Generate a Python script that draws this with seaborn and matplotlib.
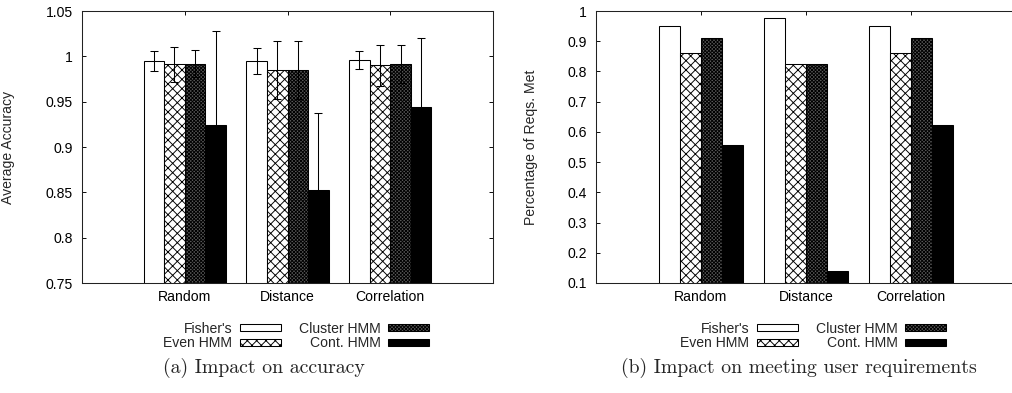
import matplotlib
matplotlib.use("Agg")
import matplotlib.pyplot as plt
from matplotlib.ticker import MultipleLocator, FuncFormatter
import numpy as np
import pandas as pd
import seaborn as sns

# ---- data ----
schemes = ["Random", "Distance", "Correlation"]
methods = ["Fisher's", "Even HMM", "Cluster HMM", "Cont. HMM"]

# (a) average accuracy and its spread
acc_fisher = [0.995, 0.995, 0.996]
acc_even = [0.991, 0.985, 0.990]
acc_cluster = [0.992, 0.985, 0.992]
acc_cont = [0.924, 0.853, 0.944]
err_fisher = [0.011, 0.014, 0.010]
err_even = [0.019, 0.032, 0.023]
err_cluster = [0.015, 0.032, 0.021]
err_cont = [0.104, 0.084, 0.076]

# (b) share of user requirements met
req_fisher = [0.950, 0.976, 0.950]
req_even = [0.861, 0.823, 0.861]
req_cluster = [0.912, 0.823, 0.912]
req_cont = [0.557, 0.141, 0.622]

# ---- styling ----
sns.set_style("ticks")
plt.rcParams["font.family"] = ["Liberation Sans", "DejaVu Sans"]
plt.rcParams["hatch.linewidth"] = 0.8

DPI = 84
W, H = 1012, 393
FS = 12

face = ["white", "white", "#5a5a5a", "black"]
hatches = [None, "xxx", "xxxxxxxx", None]


def long_form(series):
    rows = []
    for m, vals in zip(methods, series):
        for s, v in zip(schemes, vals):
            rows.append({"scheme": s, "method": m, "value": v})
    return pd.DataFrame(rows)


def draw_panel(ax, series, errs, ylim, step, ylabel, label_x):
    df = long_form(series)
    sns.barplot(data=df, x="scheme", y="value", hue="method", order=schemes,
                hue_order=methods, palette=dict(zip(methods, face)),
                saturation=1, edgecolor="black", linewidth=0.9,
                errorbar=None, legend=False, width=0.8, ax=ax)
    for cont, h in zip(ax.containers, hatches):
        for bar in cont:
            if h:
                bar.set_hatch(h)
    if errs is not None:
        for cont, e in zip(ax.containers, errs):
            xs = [b.get_x() + b.get_width() / 2 for b in cont]
            ys = [b.get_height() for b in cont]
            ax.errorbar(xs, ys, yerr=e, fmt="none", ecolor="black",
                        elinewidth=0.9, capsize=3.5, capthick=0.9, zorder=5)
    ax.set_xlim(-1, 3)
    ax.set_ylim(*ylim)
    ax.yaxis.set_major_locator(MultipleLocator(step))
    ax.yaxis.set_major_formatter(FuncFormatter(lambda v, p: "%g" % round(v, 4)))
    ax.set_xlabel("")
    ax.set_ylabel(ylabel, fontsize=FS)
    ax.yaxis.set_label_coords(label_x, 0.5)
    ax.tick_params(axis="both", direction="in", length=3.5, width=0.8,
                   top=True, right=True, labelsize=FS, colors="black")
    ax.tick_params(axis="y", pad=8)
    ax.tick_params(axis="x", pad=6)
    for sp in ax.spines.values():
        sp.set_visible(True)
        sp.set_linewidth(0.9)
        sp.set_color("#222222")
    return ax


fig = plt.figure(figsize=(W / DPI, H / DPI), dpi=DPI)

ax1 = fig.add_axes([82 / W, 1 - 283 / H, 411 / W, 272 / H])
draw_panel(ax1, [acc_fisher, acc_even, acc_cluster, acc_cont],
           [err_fisher, err_even, err_cluster, err_cont],
           (0.75, 1.05), 0.05, "Average Accuracy", (15 - 82) / 411)

ax2 = fig.add_axes([596 / W, 1 - 283 / H, 420 / W, 272 / H])
draw_panel(ax2, [req_fisher, req_even, req_cluster, req_cont], None,
           (0.1, 1.0), 0.1, "Percentage of Reqs. Met", (538 - 596) / 420)

for ax, cx in ((ax1, 296), (ax2, 813)):
    handles = [cont[0] for cont in ax.containers]
    fig.legend(handles, methods, loc="center", ncol=2, markerfirst=False,
               bbox_to_anchor=(cx / W, 1 - 336 / H), frameon=False,
               fontsize=FS, handlelength=2.9, handleheight=0.45,
               handletextpad=0.55, columnspacing=1.3, labelspacing=0.05,
               borderpad=0, borderaxespad=0)

fig.text(264 / W, 1 - 368 / H, "(a) Impact on accuracy", family="cmr10",
         fontsize=17, ha="center", va="center")
fig.text(799 / W, 1 - 368 / H, "(b) Impact on meeting user requirements",
         family="cmr10", fontsize=17, ha="center", va="center")

fig.savefig("out.png", dpi=DPI)
